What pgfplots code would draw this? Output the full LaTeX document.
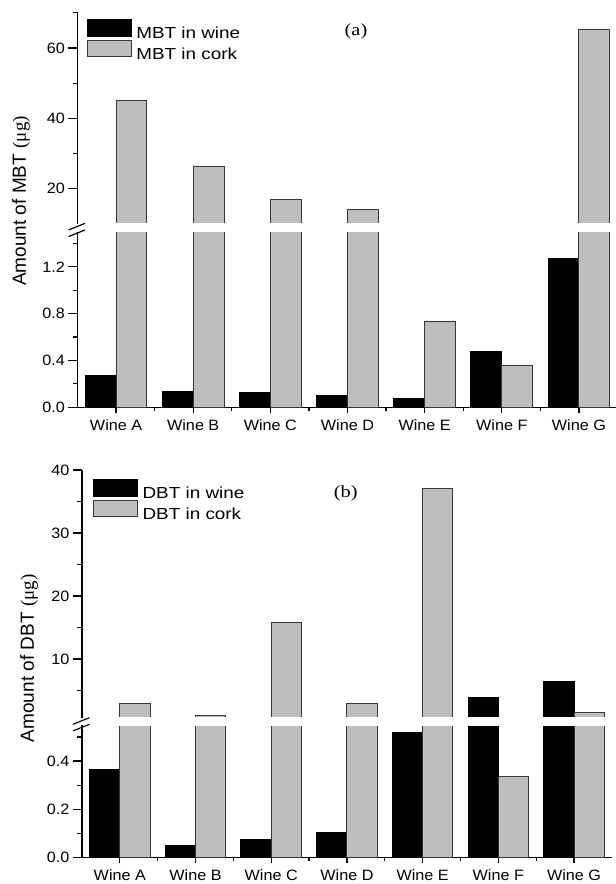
\documentclass[border=0pt]{standalone}
\usepackage{pgfplots}
\usepackage{pgfplotstable}
\pgfplotsset{compat=1.18}
\usepackage{fontspec}
\usepackage{graphicx}
\setmainfont{Liberation Sans}
\newfontfamily\serif{Liberation Serif}
\definecolor{barg}{RGB}{190,190,190}
\definecolor{edg}{RGB}{55,55,55}
\newcommand\sx[1]{\scalebox{1.08}[1]{#1}}
\newcommand\lx[1]{\scalebox{1.18}[1]{#1}}
\newcommand\tickfont{\fontsize{15}{15}\selectfont}
\newcommand\legfont{\fontsize{16}{16}\selectfont}
\newcommand\labfont{\fontsize{19}{19}\selectfont}

\pgfplotstableread{
x  wa     ca     wb     cb
0  0.270  45.1   0.364  2.97
1  0.133  26.3   0.051  1.06
2  0.128  16.9   0.075  15.76
3  0.099  14.2   0.104  2.97
4  0.073  0.736  0.519  37.1
5  0.480  0.358  3.92   0.336
6  1.268  65.3   6.51   1.48
}\data

\pgfplotsset{
  base/.style={scale only axis, xmin=-0.5, xmax=6.5,
    axis line style={line width=1.3pt},
    tick style={line width=1.2pt, black},
    tick align=outside, major tick length=9pt, minor tick length=5pt,
    ticklabel style={font=\tickfont},
  },
  lowerx/.style={axis x line*=bottom, axis y line*=left,
    xtick={0,...,6},
    xticklabels={\sx{Wine A},\sx{Wine B},\sx{Wine C},\sx{Wine D},\sx{Wine E},\sx{Wine F},\sx{Wine G}},
    minor xtick={0.5,1.5,...,5.5},
    xtick style={/pgfplots/major tick length=6pt,/pgfplots/minor tick length=4pt},
  },
  upperx/.style={axis x line=none, axis y line*=left, xtick=\empty},
  wine/.style={ybar, bar width=0.4, bar shift=-0.2, fill=black, draw=black, line width=1pt,
    legend image code/.code={\draw[##1] (0pt,-2.65pt) rectangle (43.7pt,14.05pt);}},
  cork/.style={ybar, bar width=0.4, bar shift=0.2, fill=barg, draw=edg, line width=1pt,
    legend image code/.code={\draw[##1] (0pt,-2.65pt) rectangle (43.7pt,14.05pt);}},
  leg/.style={legend style={at={(rel axis cs:#1)}, anchor=north west, draw=none, fill=none,
    inner sep=0pt, outer sep=0pt, row sep=-0.7pt, column sep=4.6pt,
    nodes={inner sep=0pt}, font=\legfont}, legend cell align=left},
}

\begin{document}
\begin{tikzpicture}
\path[use as bounding box] (0pt,0pt) rectangle (616pt,884pt);

% ---------- panel (a) ----------
\begin{axis}[base, lowerx, name=al, at={(77.5pt,476.7pt)}, anchor=south west,
  width=540pt, height=175.6pt, ymin=0, ymax=1.5,
  ytick={0,0.4,0.8,1.2}, yticklabels={\sx{0.0},\sx{0.4},\sx{0.8},\sx{1.2}},
  minor ytick={0.2,0.6,1.0,1.4},
  ylabel={\labfont Amount of MBT {\serif (μg)}},
  ylabel style={at={(rel axis cs:-0.1046,1.175)}, anchor=center},
  leg={0.0176,2.2096},
]
\addplot[wine] table[x=x,y=wa]{\data};
\addplot[cork] table[x=x,y=ca]{\data};
\legend{\lx{MBT in wine},\lx{MBT in cork}}
\end{axis}

\begin{axis}[base, upperx, name=au, at={(77.5pt,660pt)}, anchor=south west,
  width=540pt, height=211.2pt, ymin=10, ymax=70,
  ytick={20,40,60}, yticklabels={\sx{20},\sx{40},\sx{60}},
  minor ytick={30,50,70},
  restrict y to domain=10:1000,
]
\addplot[cork] table[x=x,y=ca]{\data};
\end{axis}

\fill[white] (78.6pt,651.6pt) rectangle (620pt,660.8pt);
\draw[line width=1.2pt] (68.5pt,654pt) -- (85pt,660.6pt);
\draw[line width=1.2pt] (68.5pt,647.4pt) -- (85pt,654pt);
\node[font=\serif\fontsize{17}{17}\selectfont] at (356pt,853pt) {\scalebox{1.2}[1]{(a)}};

% ---------- panel (b) ----------
\begin{axis}[base, lowerx, name=bl, at={(82pt,26.7pt)}, anchor=south west,
  width=529.9pt, height=132.3pt, ymin=0, ymax=0.55,
  ytick={0,0.2,0.4}, yticklabels={\sx{0.0},\sx{0.2},\sx{0.4}},
  minor ytick={0.1,0.3,0.5},
  ylabel={\labfont Amount of DBT {\serif (μg)}},
  ylabel style={at={(rel axis cs:-0.1,1.504)}, anchor=center},
  leg={0.0213,2.857},
]
\addplot[wine] table[x=x,y=wb]{\data};
\addplot[cork] table[x=x,y=cb]{\data};
\legend{\lx{DBT in wine},\lx{DBT in cork}}
\end{axis}

\begin{axis}[base, upperx, name=bu, at={(82pt,165.7pt)}, anchor=south west,
  width=529.9pt, height=248.2pt, ymin=0.6, ymax=40,
  ytick={10,20,30,40}, yticklabels={\sx{10},\sx{20},\sx{30},\sx{40}},
  minor ytick={5,15,25,35},
  restrict y to domain=0.6:1000,
]
\addplot[wine] table[x=x,y=wb]{\data};
\addplot[cork] table[x=x,y=cb]{\data};
\end{axis}

\fill[white] (83.1pt,158.3pt) rectangle (620pt,166.5pt);
\draw[line width=1.2pt] (73pt,159.7pt) -- (89.5pt,166.3pt);
\draw[line width=1.2pt] (73pt,153.1pt) -- (89.5pt,159.7pt);
\node[font=\serif\fontsize{17}{17}\selectfont] at (345.8pt,390.7pt) {\scalebox{1.2}[1]{(b)}};
\end{tikzpicture}
\end{document}
